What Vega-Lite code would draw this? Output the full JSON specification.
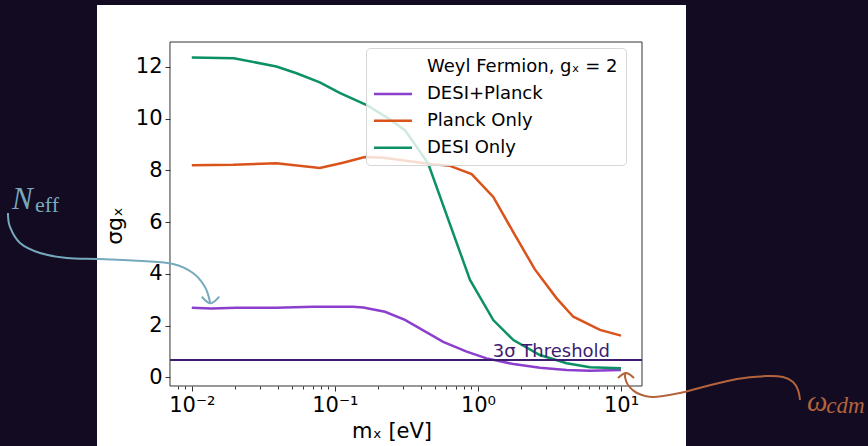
{
  "$schema": "https://vega.github.io/schema/vega-lite/v6.json",
  "width": 589,
  "height": 441,
  "autosize": {"type": "none"},
  "padding": {"left": 97, "top": 5, "right": 182, "bottom": 0},
  "background": "#130b22",
  "config": {"view": {"fill": "white", "stroke": null}, "font": "DejaVu Sans"},
  "datasets": {
    "lines": [
      {"series": "DESI+Planck", "x": 0.01, "y": 2.69},
      {"series": "DESI+Planck", "x": 0.0137, "y": 2.66},
      {"series": "DESI+Planck", "x": 0.0206, "y": 2.69},
      {"series": "DESI+Planck", "x": 0.039, "y": 2.69},
      {"series": "DESI+Planck", "x": 0.0705, "y": 2.73},
      {"series": "DESI+Planck", "x": 0.134, "y": 2.73},
      {"series": "DESI+Planck", "x": 0.158, "y": 2.70},
      {"series": "DESI+Planck", "x": 0.224, "y": 2.53},
      {"series": "DESI+Planck", "x": 0.309, "y": 2.22},
      {"series": "DESI+Planck", "x": 0.572, "y": 1.37},
      {"series": "DESI+Planck", "x": 0.834, "y": 0.99},
      {"series": "DESI+Planck", "x": 1.15, "y": 0.73},
      {"series": "DESI+Planck", "x": 1.77, "y": 0.51},
      {"series": "DESI+Planck", "x": 2.71, "y": 0.37},
      {"series": "DESI+Planck", "x": 4.17, "y": 0.28},
      {"series": "DESI+Planck", "x": 6.07, "y": 0.25},
      {"series": "DESI+Planck", "x": 10.0, "y": 0.28},
      {"series": "Planck Only", "x": 0.01, "y": 8.19},
      {"series": "Planck Only", "x": 0.0195, "y": 8.21},
      {"series": "Planck Only", "x": 0.039, "y": 8.27},
      {"series": "Planck Only", "x": 0.0785, "y": 8.09},
      {"series": "Planck Only", "x": 0.114, "y": 8.29},
      {"series": "Planck Only", "x": 0.162, "y": 8.51},
      {"series": "Planck Only", "x": 0.218, "y": 8.48},
      {"series": "Planck Only", "x": 0.438, "y": 8.26},
      {"series": "Planck Only", "x": 0.637, "y": 8.17},
      {"series": "Planck Only", "x": 0.904, "y": 7.85},
      {"series": "Planck Only", "x": 1.28, "y": 6.97},
      {"series": "Planck Only", "x": 1.77, "y": 5.6},
      {"series": "Planck Only", "x": 2.5, "y": 4.17},
      {"series": "Planck Only", "x": 3.55, "y": 3.05},
      {"series": "Planck Only", "x": 4.64, "y": 2.34},
      {"series": "Planck Only", "x": 7.13, "y": 1.83},
      {"series": "Planck Only", "x": 10.0, "y": 1.61},
      {"series": "DESI Only", "x": 0.01, "y": 12.36},
      {"series": "DESI Only", "x": 0.0197, "y": 12.33},
      {"series": "DESI Only", "x": 0.039, "y": 12.01},
      {"series": "DESI Only", "x": 0.054, "y": 11.75},
      {"series": "DESI Only", "x": 0.0785, "y": 11.40},
      {"series": "DESI Only", "x": 0.108, "y": 10.99},
      {"series": "DESI Only", "x": 0.167, "y": 10.52},
      {"series": "DESI Only", "x": 0.24, "y": 9.98},
      {"series": "DESI Only", "x": 0.309, "y": 9.55},
      {"series": "DESI Only", "x": 0.449, "y": 8.26},
      {"series": "DESI Only", "x": 0.88, "y": 3.76},
      {"series": "DESI Only", "x": 1.28, "y": 2.21},
      {"series": "DESI Only", "x": 1.77, "y": 1.44},
      {"series": "DESI Only", "x": 2.71, "y": 0.86},
      {"series": "DESI Only", "x": 4.17, "y": 0.54},
      {"series": "DESI Only", "x": 6.07, "y": 0.39},
      {"series": "DESI Only", "x": 10.0, "y": 0.35}
    ],
    "neffArrow": [
      {"part": "curve", "i": 1, "x": 0.000519, "y": 6.349},
      {"part": "curve", "i": 2, "x": 0.000536, "y": 5.808},
      {"part": "curve", "i": 3, "x": 0.00063, "y": 5.189},
      {"part": "curve", "i": 4, "x": 0.000869, "y": 4.803},
      {"part": "curve", "i": 5, "x": 0.001342, "y": 4.61},
      {"part": "curve", "i": 6, "x": 0.002282, "y": 4.571},
      {"part": "curve", "i": 7, "x": 0.004559, "y": 4.494},
      {"part": "curve", "i": 8, "x": 0.007388, "y": 4.378},
      {"part": "curve", "i": 9, "x": 0.010195, "y": 4.03},
      {"part": "curve", "i": 10, "x": 0.012367, "y": 3.489},
      {"part": "curve", "i": 11, "x": 0.0134, "y": 2.91},
      {"part": "head", "i": 1, "x": 0.01173, "y": 3.114},
      {"part": "head", "i": 2, "x": 0.01355, "y": 2.859},
      {"part": "head", "i": 3, "x": 0.01556, "y": 3.114}
    ],
    "omegaArrow": [
      {"part": "curve", "i": 1, "x": 178.3, "y": -0.877},
      {"part": "curve", "i": 2, "x": 172.6, "y": -0.491},
      {"part": "curve", "i": 3, "x": 159.3, "y": -0.182},
      {"part": "curve", "i": 4, "x": 135.6, "y": 0.012},
      {"part": "curve", "i": 5, "x": 104.8, "y": 0.05},
      {"part": "curve", "i": 6, "x": 64.67, "y": -0.066},
      {"part": "curve", "i": 7, "x": 37.42, "y": -0.375},
      {"part": "curve", "i": 8, "x": 25.85, "y": -0.607},
      {"part": "curve", "i": 9, "x": 16.73, "y": -0.761},
      {"part": "curve", "i": 10, "x": 12.94, "y": -0.607},
      {"part": "curve", "i": 11, "x": 11.19, "y": -0.298},
      {"part": "curve", "i": 12, "x": 10.66, "y": 0.012},
      {"part": "curve", "i": 13, "x": 10.8, "y": 0.15},
      {"part": "head", "i": 1, "x": 9.528, "y": -0.027},
      {"part": "head", "i": 2, "x": 10.84, "y": 0.166},
      {"part": "head", "i": 3, "x": 12.33, "y": -0.027}
    ]
  },
  "layer": [
    {
      "data": {"name": "lines"},
      "mark": {"type": "line", "strokeWidth": 2.5, "clip": false},
      "encoding": {
        "x": {
          "field": "x",
          "type": "quantitative",
          "scale": {"type": "log", "domain": [0.002175, 28.46], "nice": false},
          "axis": {
            "orient": "bottom",
            "offset": -60,
            "domain": false,
            "grid": false,
            "values": [0.008, 0.009, 0.01, 0.02, 0.03, 0.04, 0.05, 0.06, 0.07, 0.08, 0.09, 0.1, 0.2, 0.3, 0.4, 0.5, 0.6, 0.7, 0.8, 0.9, 1, 2, 3, 4, 5, 6, 7, 8, 9, 10],
            "labelExpr": "datum.value == 0.01 ? '10⁻²' : datum.value == 0.1 ? '10⁻¹' : datum.value == 1 ? '10⁰' : datum.value == 10 ? '10¹' : ''",
            "tickSize": {"condition": {"test": "datum.value == 0.01 || datum.value == 0.1 || datum.value == 1 || datum.value == 10", "value": 5}, "value": 3},
            "tickColor": "#333333",
            "tickWidth": 1,
            "labelFontSize": 21,
            "labelFont": "DejaVu Sans",
            "labelColor": "black",
            "labelPadding": 3,
            "labelOverlap": false,
            "labelFlush": false,
            "title": "mₓ [eV]",
            "titleFont": "DejaVu Sans",
            "titleFontSize": 21,
            "titleFontWeight": "normal",
            "titleColor": "black",
            "titlePadding": 5
          }
        },
        "y": {
          "field": "y",
          "type": "quantitative",
          "scale": {"domain": [-2.655, 14.386], "nice": false, "zero": false},
          "axis": {
            "orient": "left",
            "offset": -73,
            "domain": false,
            "grid": false,
            "values": [0, 2, 4, 6, 8, 10, 12],
            "tickSize": 5,
            "tickColor": "#333333",
            "labelFontSize": 21,
            "labelFont": "DejaVu Sans",
            "labelColor": "black",
            "labelPadding": 3,
            "title": "σgₓ",
            "titleFont": "DejaVu Sans",
            "titleFontSize": 22,
            "titleFontWeight": "normal",
            "titleColor": "black",
            "titlePadding": 9
          }
        },
        "color": {
          "field": "series",
          "type": "nominal",
          "scale": {
            "domain": ["Weyl Fermion, gₓ = 2", "DESI+Planck", "Planck Only", "DESI Only"],
            "range": ["rgba(0,0,0,0)", "#8c3fcc", "#d9531a", "#0b9163"]
          },
          "legend": {
            "orient": "none",
            "legendX": 269,
            "legendY": 43,
            "title": null,
            "symbolType": "M-2,0H2",
            "symbolSize": 361,
            "symbolStrokeWidth": 2.5,
            "symbolOffset": 8,
            "labelFontSize": 18,
            "labelFont": "DejaVu Sans",
            "labelColor": "black",
            "labelOffset": 23,
            "labelLimit": 400,
            "rowPadding": 6.9,
            "padding": 8,
            "fillColor": "rgba(255,255,255,0.8)",
            "strokeColor": "#d6d6d6",
            "cornerRadius": 4
          }
        }
      }
    },
    {
      "data": {"values": [{"threshold": 0.67, "label": "3σ Threshold"}]},
      "mark": {"type": "rule", "color": "#3d1c70", "strokeWidth": 2},
      "encoding": {
        "x": {"datum": 0.00704, "type": "quantitative"},
        "x2": {"datum": 14.02},
        "y": {"field": "threshold", "type": "quantitative"}
      }
    },
    {
      "data": {"values": [{"threshold": 0.67, "label": "3σ Threshold"}]},
      "mark": {"type": "text", "color": "#3d1c70", "fontSize": 18, "font": "DejaVu Sans", "align": "right", "baseline": "alphabetic", "dy": -3},
      "encoding": {
        "x": {"datum": 8.38, "type": "quantitative"},
        "y": {"field": "threshold", "type": "quantitative"},
        "text": {"field": "label"}
      }
    },
    {
      "data": {"values": [{}]},
      "mark": {"type": "rect", "filled": false, "stroke": "#333333", "strokeWidth": 1},
      "encoding": {
        "x": {"datum": 0.00704, "type": "quantitative"},
        "x2": {"datum": 14.02},
        "y": {"datum": -0.336, "type": "quantitative"},
        "y2": {"datum": 12.956}
      }
    },
    {
      "data": {"name": "neffArrow"},
      "mark": {"type": "line", "color": "#77a9bd", "strokeWidth": 2, "interpolate": "cardinal", "clip": false},
      "encoding": {
        "x": {"field": "x", "type": "quantitative"},
        "y": {"field": "y", "type": "quantitative"},
        "detail": {"field": "part"},
        "order": {"field": "i"}
      }
    },
    {
      "data": {"name": "omegaArrow"},
      "mark": {"type": "line", "color": "#b4643c", "strokeWidth": 2, "interpolate": "cardinal", "clip": false},
      "encoding": {
        "x": {"field": "x", "type": "quantitative"},
        "y": {"field": "y", "type": "quantitative"},
        "detail": {"field": "part"},
        "order": {"field": "i"}
      }
    },
    {
      "data": {"values": [{"t": "N"}]},
      "mark": {"type": "text", "color": "#77a9bd", "font": "Liberation Serif", "fontStyle": "italic", "fontSize": 31, "align": "left", "baseline": "alphabetic"},
      "encoding": {
        "x": {"datum": 0.000554, "type": "quantitative"},
        "y": {"datum": 6.49, "type": "quantitative"},
        "text": {"field": "t"}
      }
    },
    {
      "data": {"values": [{"t": "eff"}]},
      "mark": {"type": "text", "color": "#77a9bd", "font": "Liberation Serif", "fontSize": 22, "align": "left", "baseline": "alphabetic"},
      "encoding": {
        "x": {"datum": 0.000802, "type": "quantitative"},
        "y": {"datum": 6.40, "type": "quantitative"},
        "text": {"field": "t"}
      }
    },
    {
      "data": {"values": [{"t": "ω"}]},
      "mark": {"type": "text", "color": "#b4643c", "font": "Liberation Serif", "fontStyle": "italic", "fontSize": 29, "align": "left", "baseline": "alphabetic"},
      "encoding": {
        "x": {"datum": 199.5, "type": "quantitative"},
        "y": {"datum": -1.29, "type": "quantitative"},
        "text": {"field": "t"}
      }
    },
    {
      "data": {"values": [{"t": "cdm"}]},
      "mark": {"type": "text", "color": "#b4643c", "font": "Liberation Serif", "fontStyle": "italic", "fontSize": 23, "align": "left", "baseline": "alphabetic"},
      "encoding": {
        "x": {"datum": 272.0, "type": "quantitative"},
        "y": {"datum": -1.391, "type": "quantitative"},
        "text": {"field": "t"}
      }
    }
  ]
}
